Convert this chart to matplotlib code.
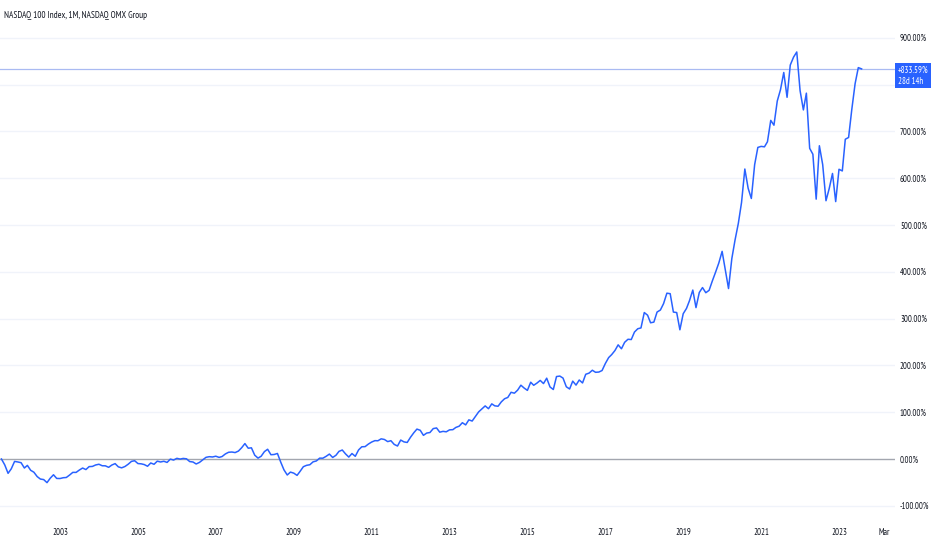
import numpy as np
import matplotlib
matplotlib.use("Agg")
import matplotlib.pyplot as plt
from matplotlib.patches import Rectangle
from datetime import datetime, timedelta

plt.rcParams['font.family'] = ['PT Sans Narrow', 'DejaVu Sans']

# monthly closes, Jul 2001 .. Aug 2023
closes_2001 = [1683, 1470, 1168, 1330, 1596, 1577]
closes_2002 = [1550, 1359, 1453, 1277, 1208, 1051, 962, 943, 833, 990, 1116, 984]
closes_2003 = [981, 1010, 1018, 1106, 1202, 1201, 1285, 1358, 1303, 1409, 1416, 1468]
closes_2004 = [1494, 1440, 1438, 1384, 1466, 1517, 1401, 1365, 1413, 1494, 1597, 1621]
closes_2005 = [1519, 1509, 1483, 1422, 1540, 1493, 1605, 1576, 1601, 1560, 1679, 1645]
closes_2006 = [1707, 1680, 1703, 1690, 1591, 1575, 1504, 1561, 1654, 1743, 1766, 1756]
closes_2007 = [1783, 1741, 1772, 1866, 1925, 1934, 1914, 1968, 2091, 2238, 2071, 2085]
closes_2008 = [1820, 1715, 1781, 1949, 2033, 1837, 1845, 1882, 1570, 1294, 1108, 1212]
closes_2009 = [1175, 1094, 1237, 1406, 1455, 1477, 1580, 1613, 1714, 1712, 1780, 1860]
closes_2010 = [1738, 1818, 1957, 2006, 1869, 1752, 1880, 1780, 2010, 2122, 2128, 2218]
closes_2011 = [2292, 2343, 2339, 2408, 2385, 2309, 2341, 2208, 2150, 2364, 2298, 2278]
closes_2012 = [2466, 2628, 2758, 2716, 2534, 2616, 2635, 2776, 2800, 2648, 2677, 2661]
closes_2013 = [2731, 2738, 2818, 2863, 2988, 2910, 3091, 3048, 3218, 3378, 3487, 3592]
closes_2014 = [3492, 3666, 3595, 3580, 3736, 3850, 3896, 4082, 4050, 4158, 4337, 4236]
closes_2015 = [4151, 4444, 4334, 4414, 4509, 4396, 4589, 4274, 4182, 4648, 4665, 4593]
closes_2016 = [4280, 4201, 4484, 4341, 4524, 4418, 4730, 4771, 4875, 4801, 4810, 4864]
closes_2017 = [5118, 5330, 5436, 5584, 5788, 5647, 5880, 5988, 5979, 6248, 6367, 6397]
closes_2018 = [6950, 6854, 6582, 6606, 6968, 7040, 7272, 7646, 7628, 6967, 6949, 6330]
closes_2019 = [6907, 7099, 7378, 7758, 7127, 7672, 7848, 7663, 7749, 8084, 8406, 8733]
closes_2020 = [9150, 8462, 7813, 8890, 9556, 10157, 10906, 12111, 11418, 11052, 12269, 12888]
closes_2021 = [12925, 12909, 13091, 13860, 13687, 14555, 14959, 15583, 14690, 15850, 16136, 16320]
closes_2022 = [14931, 14237, 14839, 12855, 12643, 11028, 12948, 12272, 10971, 11406, 11951, 10940]
closes_2023 = [12102, 12042, 13182, 13246, 14254, 15180, 15758, 15712]

closes = np.array(closes_2001 + closes_2002 + closes_2003 + closes_2004 + closes_2005 +
                  closes_2006 + closes_2007 + closes_2008 + closes_2009 + closes_2010 +
                  closes_2011 + closes_2012 + closes_2013 + closes_2014 + closes_2015 +
                  closes_2016 + closes_2017 + closes_2018 + closes_2019 + closes_2020 +
                  closes_2021 + closes_2022 + closes_2023, dtype=float)
months = np.arange('2001-07', '2023-09', dtype='datetime64[M]').astype('datetime64[D]')
pct = (closes / closes[0] - 1) * 100

last_label = "+833.59%"
countdown = "28d 14h"
ytick_vals = [-100, 0, 100, 200, 300, 400, 500, 600, 700, 800, 900]
xtick_dates = [datetime(y, 1, 1) for y in range(2003, 2024, 2)] + [datetime(2024, 3, 1)]
xtick_labels = [str(y) for y in range(2003, 2024, 2)] + ["Mar"]

W, H = 932, 550
fig = plt.figure(figsize=(W / 100, H / 100), dpi=100)
fig.patch.set_facecolor("white")
ax = fig.add_axes([0, 30 / H, 895 / W, 520 / H])
ax.set_facecolor("white")

# x scale: Jan 2003 at px 60, 38.95 px per year
px_day = 38.95 / 365.25
ref = datetime(2003, 1, 1)
ax.set_xlim(ref - timedelta(days=60 / px_day), ref + timedelta(days=835 / px_day))
# y scale: 0% at px 459 from top, 46.8 px per 100%
ax.set_ylim((459 - 520) / 0.468, 459 / 0.468)

for v in ytick_vals:
    if v == 0:
        ax.axhline(v, color="#a3a6af", lw=1.0, zorder=1)
    else:
        ax.axhline(v, color="#f0f3fa", lw=1.0, zorder=0)

ax.axhline(pct[-1], color="#a9baf2", lw=0.9, zorder=2)
ax.plot(months, pct, color="#2962ff", lw=1.1, zorder=3)

for s in ax.spines.values():
    s.set_visible(False)
ax.yaxis.tick_right()
ax.set_yticks(ytick_vals)
# the 800% label sits under the last-value badge
ax.set_yticklabels(["" if v == 800 else f"{v:.2f}%" for v in ytick_vals],
                   fontsize=6.2, color="#131722")
ax.tick_params(axis="y", length=0, pad=3.6)
ax.set_xticks(xtick_dates)
ax.set_xticklabels(xtick_labels, fontsize=6.3, color="#131722")
ax.tick_params(axis="x", length=0, pad=6)

fig.text(4 / W, 1 - 15.5 / H, "NASDAQ 100 Index, 1M, NASDAQ OMX Group",
         fontsize=6.7, color="#131722", va="center", ha="left")

fig.patches.append(Rectangle((895 / W, 1 - 88 / H), 36 / W, 25 / H,
                             transform=fig.transFigure, facecolor="#2962ff",
                             edgecolor="none", zorder=5))
fig.text(897.5 / W, 1 - 70 / H, last_label, fontsize=6.3, color="white",
         va="center", ha="left", zorder=6)
fig.text(897.5 / W, 1 - 81 / H, countdown, fontsize=6.3, color="white",
         va="center", ha="left", zorder=6)

fig.savefig("out.png", dpi=100)
